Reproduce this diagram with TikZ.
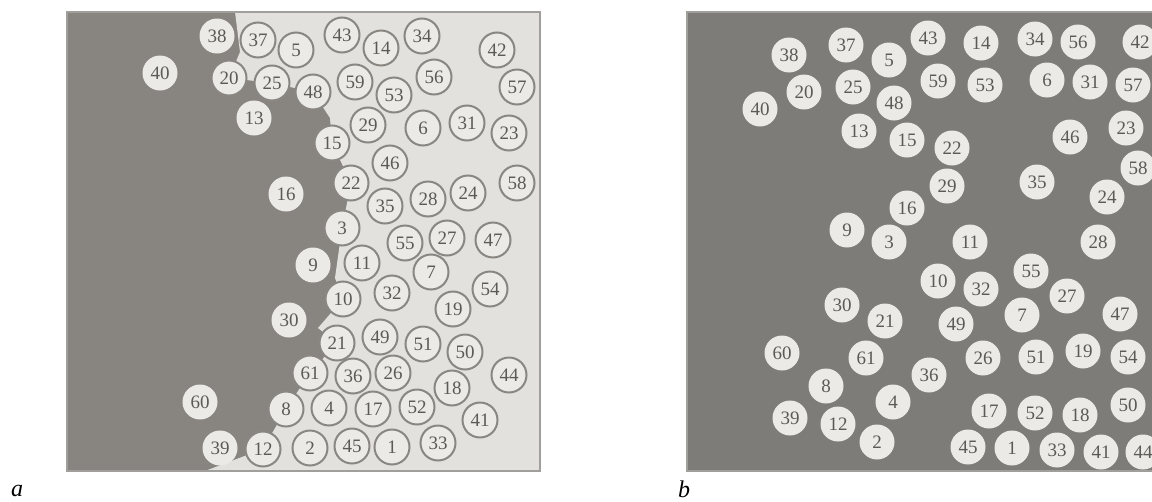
\documentclass[tikz,border=0pt]{standalone}
\usepackage{fontspec}
\setmainfont{Liberation Serif}
\definecolor{darkbg}{HTML}{888581}
\definecolor{darkbgb}{HTML}{7E7C78}
\definecolor{lightbg}{HTML}{E3E1DD}
\definecolor{circfill}{HTML}{ECEAE6}
\definecolor{ringcol}{HTML}{8A8783}
\definecolor{numcol}{HTML}{5C5956}
\begin{document}
\begin{tikzpicture}[x=1pt,y=-1pt,
  num/.style={circle,minimum size=35pt,inner sep=0pt,fill=circfill,text=numcol,
    font=\fontsize{19}{19}\selectfont},
  ringed/.style={num,draw=ringcol,line width=2pt},
  plainc/.style={num},
  panel/.style={draw=ringcol!80,line width=1.5pt},
  lab/.style={font=\fontsize{24}{24}\selectfont\itshape,text=black,inner sep=0pt}]
\useasboundingbox (0,0) rectangle (1152,501);
\fill[white] (0,0) rectangle (1152,501);
% ---------- panel a ----------
\fill[darkbg] (67,12) rectangle (540,471);
\fill[lightbg] (235,12) -- (540,12) -- (540,471) -- (205,471) -- (263,449) -- (286,409)
  -- (310,373) -- (337,343) -- (318,328) -- (343,299) -- (335,278) -- (342,228)
  -- (351,183) -- (332,143) -- (330,118) -- (313,92) -- (272,83) -- (229,78)
  -- (240,52) -- cycle;
\draw[panel] (67,12) rectangle (540,471);
\foreach \n/\x/\y in {40/160/73, 38/217/36, 13/254/118, 16/286/194, 9/313/265,
    30/289/320, 60/200/402, 39/220/448}
  \node[plainc] (a\n) at (\x,\y) {\n};
\foreach \n/\x/\y in {37/258/40, 5/296/50, 43/342/35, 14/381/48, 34/422/36, 42/497/50,
    20/229/78, 25/272/83, 48/313/92, 59/355/82, 53/394/95, 56/434/77, 57/517/87,
    29/368/125, 6/423/128, 31/467/123, 23/509/133, 15/332/143, 46/390/163,
    22/351/183, 35/385/206, 28/428/199, 24/468/193, 58/517/183, 3/342/228,
    55/405/243, 27/447/238, 47/493/240, 11/362/263, 7/431/272, 54/490/289,
    10/343/299, 32/392/293, 19/453/309, 21/337/343, 49/380/337, 51/423/344,
    50/465/352, 61/310/373, 36/353/376, 26/393/373, 44/509/375, 18/452/388,
    8/286/409, 4/329/408, 17/373/409, 52/417/407, 41/480/420, 12/263/449,
    2/310/448, 45/352/446, 1/392/447, 33/438/443}
  \node[ringed] (a\n) at (\x,\y) {\n};
% ---------- panel b ----------
\fill[darkbgb] (687,12) rectangle (1160,471);
\draw[panel] (687,12) rectangle (1160,471);
\foreach \n/\x/\y in {38/789/55, 37/846/45, 5/889/60, 43/928/38, 14/981/43, 34/1035/39,
    56/1078/42, 42/1140/42, 20/804/92, 40/760/109, 25/853/87, 48/894/103, 59/938/81,
    53/985/85, 6/1047/80, 31/1090/82, 57/1133/85, 13/859/131, 15/907/140,
    22/952/148, 46/1070/137, 23/1126/128, 29/947/186, 35/1037/182, 58/1138/168,
    16/907/208, 24/1107/197, 9/847/230, 3/889/242, 11/970/242, 28/1098/242,
    55/1031/271, 10/938/281, 32/981/289, 27/1067/296, 30/842/305, 7/1022/315,
    47/1120/314, 21/885/321, 49/956/324, 60/782/353, 61/866/358, 26/983/358,
    51/1036/357, 19/1083/351, 54/1128/357, 36/929/375, 8/826/386, 4/893/402,
    50/1128/405, 17/989/411, 52/1035/413, 18/1080/415, 39/790/418, 12/838/424,
    2/877/442, 45/968/447, 1/1012/448, 33/1057/450, 41/1101/452, 44/1143/452}
  \node[plainc] (b\n) at (\x,\y) {\n};
% ---------- captions ----------
\node[lab] (capa) at (17,491) {a};
\node[lab] (capb) at (684,489) {b};
\end{tikzpicture}
\end{document}
